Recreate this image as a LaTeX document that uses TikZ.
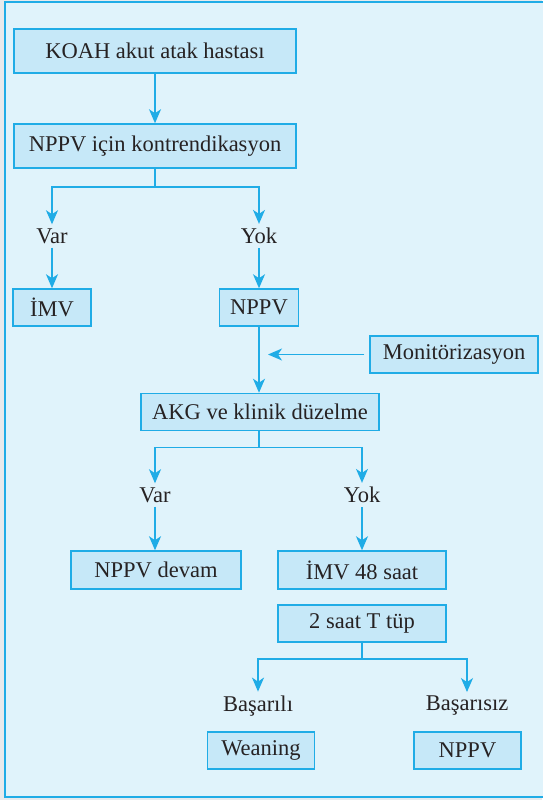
\documentclass[tikz,border=0pt]{standalone}
\usepackage{fontspec}
\setmainfont{Liberation Serif}
\usetikzlibrary{arrows.meta,calc}
\definecolor{kcyan}{RGB}{32,172,230}
\definecolor{kbox}{RGB}{198,232,248}
\definecolor{kpanel}{RGB}{224,243,251}
\definecolor{kink}{RGB}{38,34,35}
\definecolor{kpage}{RGB}{232,234,236}

\begin{document}
\begin{tikzpicture}[
  x=1pt,y=-1pt,
  every node/.append style={font=\fontsize{22.5}{26}\selectfont,text=kink},
  box/.style={draw=kcyan,line width=1.5pt,fill=kbox,inner sep=0pt,
    minimum height=37pt},
  lbl/.style={inner sep=4pt},
  link/.style={draw=kcyan,line width=1.5pt},
  wire/.style={-{Stealth[length=14pt,width=12pt,inset=4pt]},draw=kcyan,
    line width=1.5pt},
]
  \useasboundingbox (0,0) rectangle (542,800);
  \fill[kpage] (0,0) rectangle (542,800);
  % panel with open right side
  \fill[kpanel] (5,2) rectangle (548,797);
  \draw[kcyan,line width=2pt] (548,2) -- (5,2) -- (5,797) -- (548,797);

  \node[box,minimum width=282pt,minimum height=44pt] (koah) at (155,51)
    {KOAH akut atak hastası};
  \node[box,minimum width=282pt,minimum height=44pt] (kontr) at (155,146)
    {NPPV için kontrendikasyon};
  \node[lbl] (var1) at (52,236) {Var};
  \node[lbl] (yok1) at (259,236) {Yok};
  \node[box,minimum width=78pt] (imv) at (52,307.5) {İMV};
  \node[box,minimum width=79pt] (nppv) at (259,307.5) {NPPV};
  \node[box,minimum width=168pt] (monit) at (454,354.5) {Monitörizasyon};
  \node[box,minimum width=238pt] (akg) at (260,412) {AKG ve klinik düzelme};
  \node[lbl] (var2) at (155,495) {Var};
  \node[lbl] (yok2) at (362,495) {Yok};
  \node[box,minimum width=170pt,minimum height=38pt] (devam) at (156,570)
    {NPPV devam};
  \node[box,minimum width=168pt,minimum height=38pt] (imvsaat) at (362,570)
    {İMV 48 saat};
  \node[box,minimum width=168pt] (ttup) at (362,623.5) {2 saat T tüp};
  \node[lbl] (basar) at (258,706) {Başarılı};
  \node[lbl] (basarsiz) at (467,706) {Başarısız};
  \node[box,minimum width=107pt] (wean) at (261,750.5) {Weaning};
  \node[box,minimum width=107pt] (nppvb) at (467.5,750.5) {NPPV};

  \draw[wire] (koah) -- (kontr);
  \draw[link] (kontr.south) -- ++(0,18) coordinate (forka);
  \draw[wire] (forka) -| (var1);
  \draw[wire] (forka) -| (yok1);
  \draw[wire] (var1) -- (imv);
  \draw[wire] (yok1) -- (yok1 |- nppv.north);

  \draw[wire] (nppv.south) -- (nppv.south |- akg.north);
  \draw[wire] ([xshift=-5pt]monit.west) -- ([xshift=9pt]monit.west -| nppv.south);

  \draw[link] (akg.south -| nppv.south) -- ++(0,16) coordinate (forkb);
  \draw[wire] (forkb) -| (var2);
  \draw[wire] (forkb) -| (yok2);
  \draw[wire] (var2) -- (var2 |- devam.north);
  \draw[wire] (yok2) -- (imvsaat);

  \draw[link] (ttup.south) -- ++(0,16) coordinate (forkc);
  \draw[wire] (forkc) -| (basar);
  \draw[wire] (forkc) -| (basarsiz);
\end{tikzpicture}
\end{document}
